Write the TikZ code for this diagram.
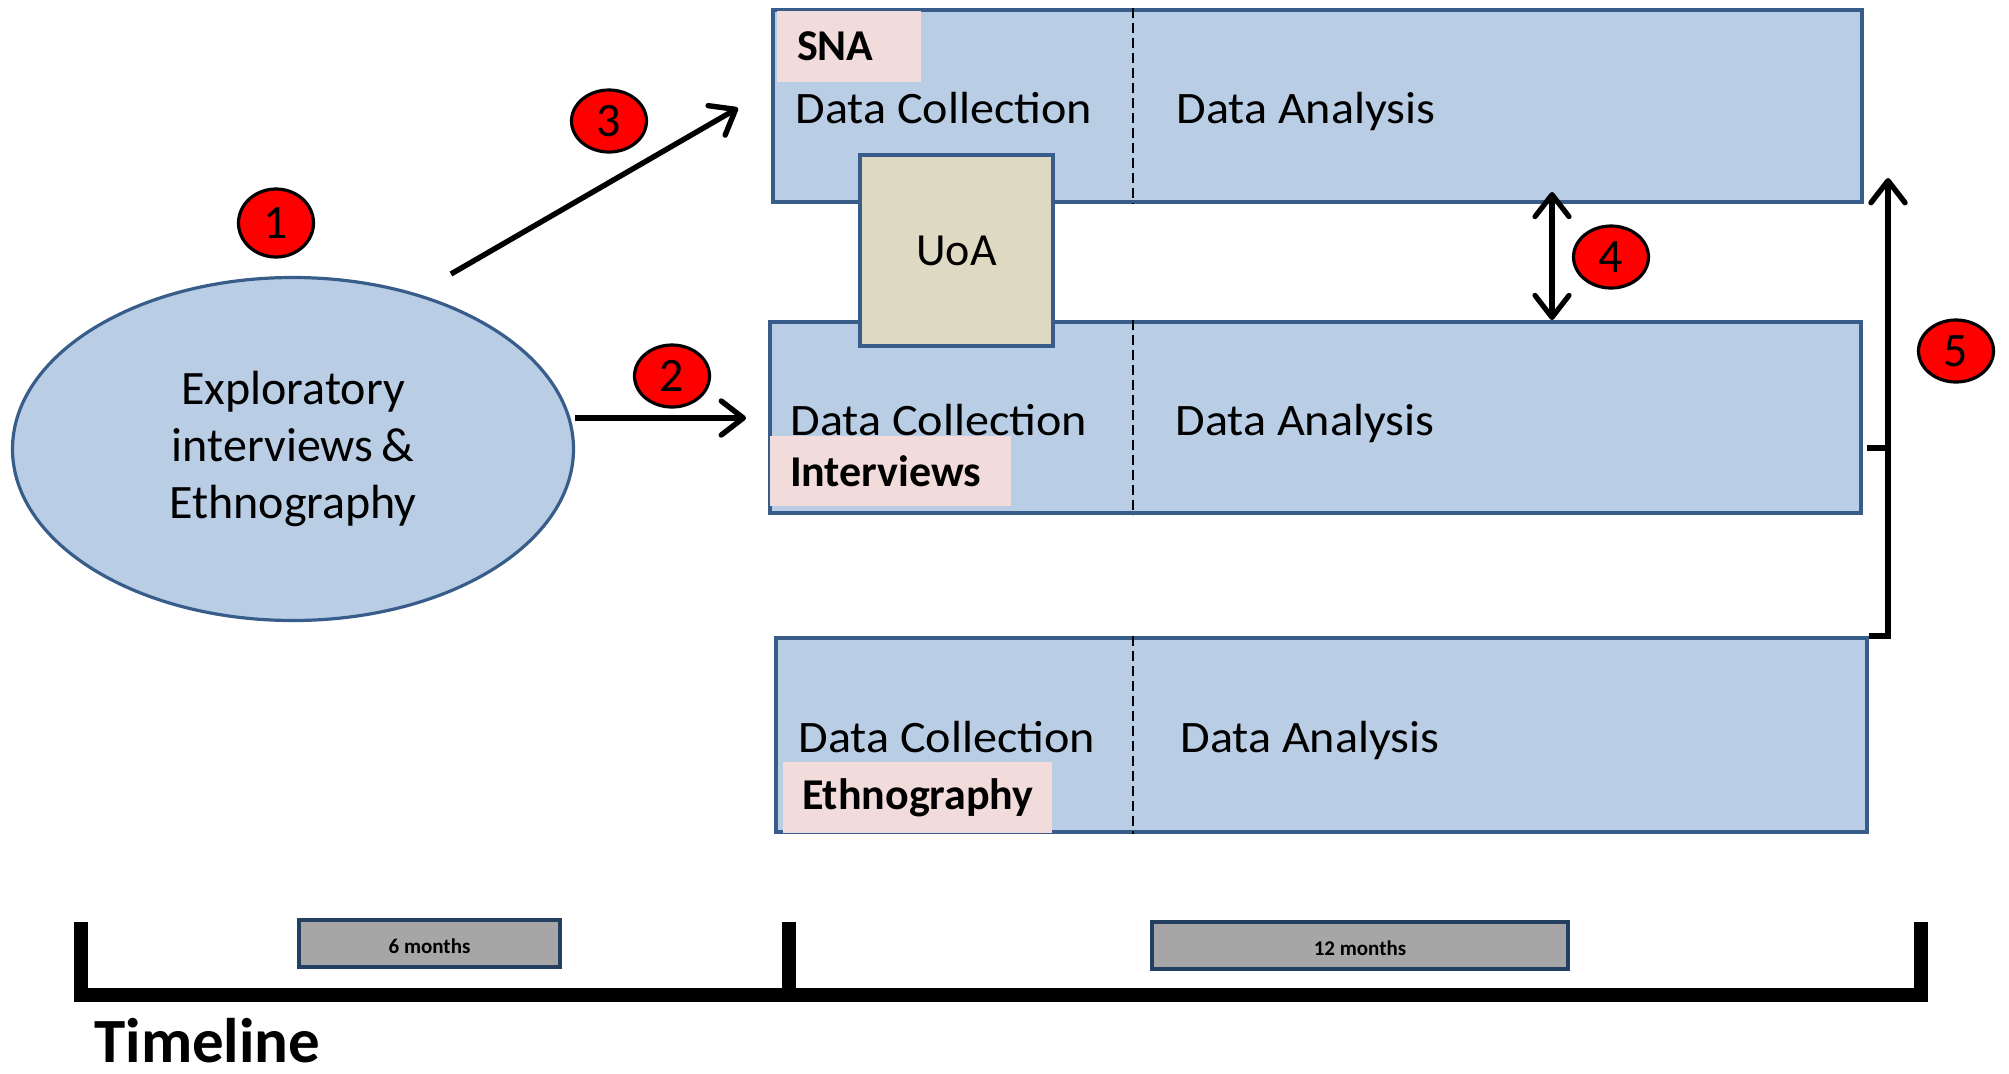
\documentclass[tikz,border=0pt]{standalone}
\usepackage{fontspec}
\setmainfont{Carlito}
\newfontfamily\widefont[FakeStretch=1.07]{Carlito}
\usetikzlibrary{arrows.meta,shapes.geometric,calc}
\definecolor{boxfill}{RGB}{185,205,229}
\definecolor{boxline}{RGB}{56,93,138}
\definecolor{tagfill}{RGB}{242,220,219}
\definecolor{uoafill}{RGB}{221,217,195}
\definecolor{grayfill}{RGB}{166,166,166}
\definecolor{grayline}{RGB}{36,64,97}
\definecolor{numred}{RGB}{255,0,0}
\tikzset{
  phase/.style={rectangle, draw=boxline, fill=boxfill, line width=2pt, inner sep=0pt},
  uoabox/.style={rectangle, draw=boxline, fill=uoafill, line width=2pt, inner sep=0pt,
    font=\fontsize{23}{26}\selectfont},
  tagbox/.style={rectangle, fill=tagfill, inner xsep=10pt, inner ysep=0pt, align=left,
    font=\bfseries\fontsize{22}{24}\selectfont},
  phasetext/.style={anchor=base west, inner sep=0pt, font=\widefont\fontsize{22.5}{26}\selectfont},
  divider/.style={black, line width=1pt, dash pattern=on 5pt off 2.5pt},
  startell/.style={ellipse, draw=boxline, fill=boxfill, line width=1.6pt, inner sep=0pt,
    align=center, font=\fontsize{24}{28.5}\selectfont},
  numell/.style={ellipse, draw=black, fill=numred, line width=1.6pt, inner sep=0pt,
    minimum width=37.5pt, minimum height=31pt, font=\fontsize{24}{24}\selectfont},
  conn/.style={black, line width=2.7pt, line join=miter,
    -{Straight Barb[length=11pt,width=17pt,round]}},
  conntwo/.style={black, line width=2.6pt,
    {Straight Barb[length=11pt,width=17pt,round]}-{Straight Barb[length=11pt,width=17pt,round]}},
  plainline/.style={black, line width=2.6pt},
  tlbar/.style={black, line width=7pt, line join=miter, line cap=butt},
  durbox/.style={rectangle, draw=grayline, fill=grayfill, line width=2pt, inner sep=0pt,
    text height=10pt, text depth=0pt, font=\bfseries\fontsize{10.5}{12}\selectfont}
}
\begin{document}
\begin{tikzpicture}[x=0.5pt,y=-0.5pt]
\useasboundingbox (0,0) rectangle (2009,1073);

% phase boxes
\node[phase, minimum width=544.5pt, minimum height=96pt] (sna) at (1317.5,106) {};
\node[phase, minimum width=545.5pt, minimum height=95.5pt] (int) at (1315.5,417.5) {};
\node[phase, minimum width=545.5pt, minimum height=97pt] (eth) at (1321.5,735) {};

% dividers
\coordinate (dx) at (1133,0);
\draw[divider] (dx |- sna.north) -- (dx |- sna.south);
\draw[divider] (dx |- int.north) -- (dx |- int.south);
\draw[divider] (dx |- eth.north) -- (dx |- eth.south);

% tags
\node[tagbox, minimum width=72pt, minimum height=35.5pt, text width=52pt] (snatag) at (849,46.5) {SNA};
\node[tagbox, minimum width=120.5pt, minimum height=35pt, text width=100.5pt] (inttag) at (890.5,471) {Interviews};
\node[tagbox, inner xsep=9.5pt, minimum width=134.5pt, minimum height=35.5pt, text width=115.5pt] (ethtag) at (917.5,797.5) {Ethnography};

% texts
\node[phasetext] (dc1) at (795,123) {Data Collection};
\node[phasetext] (da1) at (1176,123) {Data Analysis};
\node[phasetext] (dc2) at (790,435) {Data Collection};
\node[phasetext] (da2) at (1175,435) {Data Analysis};
\node[phasetext] (dc3) at (798,752) {Data Collection};
\node[phasetext] (da3) at (1180,752) {Data Analysis};

% UoA
\node[uoabox, minimum width=96.5pt, minimum height=95.5pt] (uoa) at (956.5,250.5) {UoA};

% start ellipse
\node[startell, minimum width=280.5pt, minimum height=171.5pt] (ell) at (293,449)
  {Exploratory\\interviews\,\&\\Ethnography};

% numbers
\node[numell, minimum height=34pt] (n1) at (276,223) {1};
\node[numell] (n2) at (672,376) {2};
\node[numell] (n3) at (609,121) {3};
\node[numell] (n4) at (1611,257) {4};
\node[numell] (n5) at (1956,351) {5};

% connectors
\coordinate (a3s) at (451,274);
\coordinate (a3e) at (738,108);
\draw[conn] (a3s) -- (a3e);
\coordinate (a2e) at (746,418);
\draw[conn] (ell.east |- a2e) -- (a2e);
\coordinate (a4t) at (1552,192);
\draw[conntwo] (a4t |- int.north) -- (a4t);
\coordinate (a5t) at (1888,178);
\draw[conn] (eth.north east) -| (a5t);
\coordinate (s5) at (1867,448);
\draw[plainline] (s5) -- (s5 -| a5t);

% timeline
\coordinate (tl) at (80.5,922);
\coordinate (tm) at (789,922);
\coordinate (tr) at (1921,922);
\coordinate (tb) at (0,995);
\draw[tlbar] (tl) -- (tl |- tb) -- (tr |- tb) -- (tr);
\draw[tlbar] (tm) -- (tm |- tb);
\node[durbox, minimum width=130.5pt, minimum height=23.5pt] (m6) at (429.5,943.5) {6 months};
\node[durbox, minimum width=208pt, minimum height=23.5pt] (m12) at (1360,945.5) {12 months};
\node[anchor=base west, inner sep=0pt, text depth=0pt, font=\bfseries\fontsize{31.5}{32}\selectfont] (tlt) at (94,1062) {Timeline};
\end{tikzpicture}
\end{document}
